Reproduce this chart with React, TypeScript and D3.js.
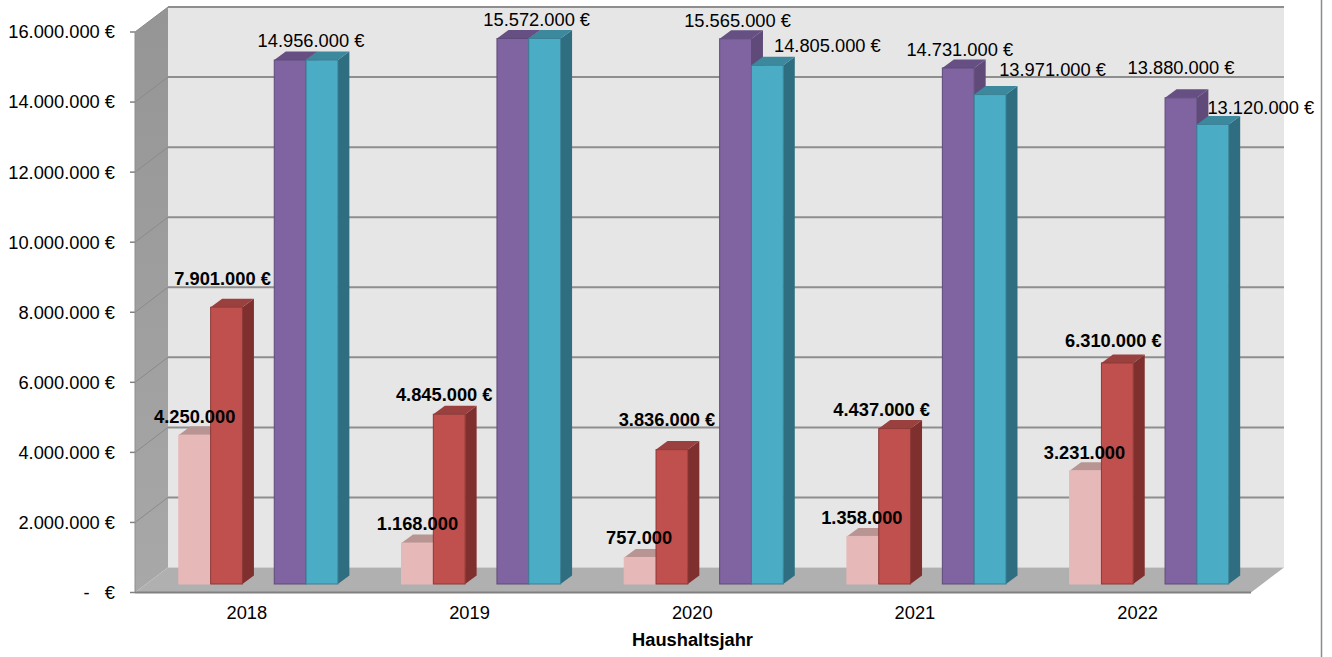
import * as React from "react";
import { formatLocale, range, scaleBand, scaleLinear } from "d3";

const categories = ["2018", "2019", "2020", "2021", "2022"];
const seriesKeys = ["pink", "red", "purple", "teal"];

const pinkValues = [4250000, 1168000, 757000, 1358000, 3231000];
const redValues = [7901000, 4845000, 3836000, 4437000, 6310000];
const purpleValues = [14956000, 15572000, 15565000, 14731000, 13880000];
const tealValues = [14956000, 15572000, 14805000, 13971000, 13120000];

// hand placed labels in the original, offset from the bar's top centre
const labelDx = [
  [0, 0, -1, -1, -1],
  [-4, -5, -5, -13, -4],
  [0, 0, 2, 1.5, 0],
  [-11, -8, 60, 62.5, 48],
];
const labelDy = [
  [-19, -19, -20, -19, -18],
  [-29, -20, -30, -19, -22],
  [-18, -18, -18, -18, -30],
  [-19, -19, -20, -25, -17],
];

const front = ["#E6B9B8", "#C0504D", "#8064A2", "#4BACC6"];
const top = ["#B89492", "#9A403E", "#664F82", "#3C899E"];
const side = ["#AD8B8A", "#7F302E", "#5F4A79", "#2F6E80"];
const edge = ["#E6B9B8", "#8C3836", "#5E4A78", "#3A8196"];

const de = formatLocale({
  decimal: ",",
  thousands: ".",
  grouping: [3],
  currency: ["", " €"],
});
const fmt = de.format(",d");

const depthX = 33;
const depthY = 25;
const barDepthX = 11.5;
const barDepthY = 8.5;

const pts = (p: number[][]) => p.map((d) => d.join(",")).join(" ");

export default function App() {
  const font = "'Liberation Sans', Arial, sans-serif";
  const fontSize = 18.3;
  const seriesValues = [pinkValues, redValues, purpleValues, tealValues];

  const left = 135;
  const right = 1251;

  const yScale = scaleLinear().domain([0, 16000000]).range([592.5, 32]);
  const ticks = range(0, 16000001, 2000000);

  const xScale = scaleBand()
    .domain(categories)
    .range([147, 147 + 1113.5]);
  const slots = ["g0", "pink", "red", "g1", "purple", "teal", "g2"];
  const slotScale = scaleBand()
    .domain(slots)
    .range([0, xScale.bandwidth()]);
  const w = slotScale.bandwidth();

  const barBase = yScale(0) - barDepthY;
  const barTop = (v: number) => yScale(v) - barDepthY;

  return (
    <svg
      width={1332}
      height={657}
      style={{ position: "absolute", left: 0, top: 0, fontFamily: font }}
    >
      <defs>
        <linearGradient id="wall" x1="0" y1="0" x2="0" y2="1">
          <stop offset="0" stopColor="#959595" />
          <stop offset="1" stopColor="#a8a8a8" />
        </linearGradient>
      </defs>
      <rect width={1332} height={657} fill="#fff" />
      <line x1={1321.5} x2={1321.5} y1={0} y2={657} stroke="#8c8c8c" strokeWidth={1.5} />

      {/* back wall */}
      <rect
        x={left + depthX}
        y={yScale(16000000) - depthY}
        width={right - left}
        height={yScale(0) - yScale(16000000)}
        fill="#e6e6e6"
      />
      {/* side wall */}
      <polygon
        points={pts([
          [left, yScale(16000000)],
          [left + depthX, yScale(16000000) - depthY],
          [left + depthX, yScale(0) - depthY],
          [left, yScale(0)],
        ])}
        fill="url(#wall)"
      />
      {/* floor */}
      <polygon
        points={pts([
          [left, yScale(0)],
          [left + depthX, yScale(0) - depthY],
          [right + depthX, yScale(0) - depthY],
          [right, yScale(0)],
        ])}
        fill="#b0b0b0"
      />

      {ticks.map((t) => (
        <g key={t}>
          {t > 0 && (
            <line
              x1={left + depthX}
              x2={right + depthX}
              y1={yScale(t) - depthY}
              y2={yScale(t) - depthY}
              stroke="#8e8e8e"
              strokeWidth={2}
            />
          )}
          {t > 0 && (
            <line
              x1={left}
              x2={left + depthX}
              y1={yScale(t)}
              y2={yScale(t) - depthY}
              stroke="#8a8a8a"
              strokeWidth={1}
            />
          )}
          <line
            x1={left - 5}
            x2={left}
            y1={yScale(t)}
            y2={yScale(t)}
            stroke="#808080"
            strokeWidth={1.5}
          />
          <text
            x={115}
            y={yScale(t)}
            dy="0.35em"
            textAnchor="end"
            fontSize={fontSize}
            fill="#000"
            style={{ whiteSpace: "pre" }}
          >
            {t === 0 ? "-   €" : `${fmt(t)} €`}
          </text>
        </g>
      ))}

      <line x1={left} x2={left} y1={yScale(16000000)} y2={yScale(0)} stroke="#8e8e8e" strokeWidth={1} />
      <line x1={left} x2={right} y1={yScale(0)} y2={yScale(0)} stroke="#808080" strokeWidth={2} />

      {/* bars */}
      {categories.map((c, ci) => (
        <g key={c}>
          {seriesKeys.map((s, si) => {
            const v = seriesValues[si][ci];
            const x0 = (xScale(c) as number) + (slotScale(s) as number);
            const x1 = x0 + w;
            const y0 = barTop(v);
            return (
              <g key={s}>
                <polygon
                  points={pts([
                    [x1, y0],
                    [x1 + barDepthX, y0 - barDepthY],
                    [x1 + barDepthX, barBase - barDepthY],
                    [x1, barBase],
                  ])}
                  fill={side[si]}
                />
                <polygon
                  points={pts([
                    [x0, y0],
                    [x0 + barDepthX, y0 - barDepthY],
                    [x1 + barDepthX, y0 - barDepthY],
                    [x1, y0],
                  ])}
                  fill={top[si]}
                />
                <rect
                  x={x0}
                  y={y0}
                  width={w}
                  height={barBase - y0}
                  fill={front[si]}
                  stroke={edge[si]}
                  strokeWidth={1}
                />
              </g>
            );
          })}
        </g>
      ))}

      {/* data labels */}
      {categories.map((c, ci) =>
        seriesKeys.map((s, si) => {
          const v = seriesValues[si][ci];
          // purple and teal share a value in some years, the label shows once
          if (si === 2 && v === tealValues[ci]) return null;
          const x =
            (xScale(c) as number) + (slotScale(s) as number) + w / 2 + labelDx[si][ci];
          const y = barTop(v) + labelDy[si][ci];
          return (
            <text
              key={`${c}-${s}`}
              x={x}
              y={y}
              dy="0.35em"
              textAnchor="middle"
              fontSize={fontSize}
              fontWeight={si < 2 ? "bold" : "normal"}
              fill="#000"
            >
              {si === 0 ? fmt(v) : `${fmt(v)} €`}
            </text>
          );
        })
      )}

      {/* x axis */}
      {categories.map((c) => (
        <text
          key={c}
          x={(xScale(c) as number) + xScale.bandwidth() / 2 - 11.5}
          y={613}
          dy="0.35em"
          textAnchor="middle"
          fontSize={fontSize}
          fill="#000"
        >
          {c}
        </text>
      ))}
      <text
        x={692.5}
        y={640}
        dy="0.35em"
        textAnchor="middle"
        fontSize={fontSize}
        fontWeight="bold"
        fill="#000"
      >
        Haushaltsjahr
      </text>
    </svg>
  );
}
